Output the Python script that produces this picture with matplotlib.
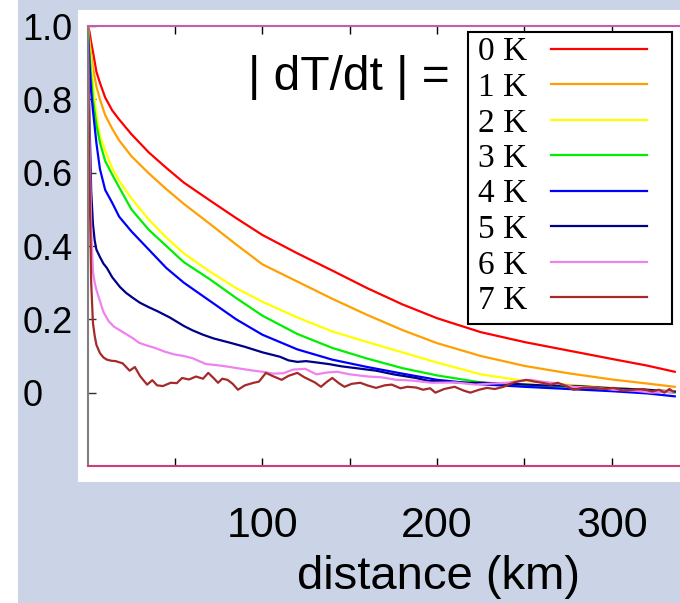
import matplotlib
matplotlib.use("Agg")
import matplotlib.pyplot as plt
from matplotlib.patches import Rectangle

# ---------------- data ----------------
dist_smooth = [0, 1, 2, 3, 5, 7, 10, 14, 18, 25, 35, 45, 55, 70, 85, 100, 120,
               140, 160, 180, 200, 225, 250, 275, 300, 320, 336]
corr_0K = [1.0, 0.985, 0.955, 0.93, 0.875, 0.845, 0.805, 0.77, 0.745, 0.705, 0.655,
           0.613, 0.573, 0.524, 0.476, 0.43, 0.38, 0.333, 0.285, 0.241, 0.203,
           0.165, 0.138, 0.115, 0.092, 0.074, 0.057]
corr_1K = [1.0, 0.96, 0.92, 0.885, 0.835, 0.8, 0.757, 0.72, 0.688, 0.645, 0.598,
           0.555, 0.515, 0.46, 0.404, 0.35, 0.303, 0.256, 0.212, 0.171, 0.135,
           0.1, 0.073, 0.053, 0.036, 0.025, 0.016]
corr_2K = [1.0, 0.95, 0.9, 0.84, 0.76, 0.7, 0.66, 0.612, 0.578, 0.53, 0.472, 0.423,
           0.38, 0.33, 0.285, 0.248, 0.205, 0.167, 0.138, 0.11, 0.082, 0.05,
           0.032, 0.022, 0.013, 0.008, 0.003]
corr_3K = [1.0, 0.93, 0.86, 0.8, 0.73, 0.682, 0.632, 0.595, 0.56, 0.5, 0.444, 0.4,
           0.356, 0.309, 0.258, 0.21, 0.16, 0.122, 0.093, 0.067, 0.047, 0.028,
           0.018, 0.012, 0.008, 0.005, 0.0]
corr_4K = [1.0, 0.9, 0.82, 0.77, 0.68, 0.61, 0.553, 0.518, 0.48, 0.44, 0.39, 0.34,
           0.3, 0.25, 0.2, 0.158, 0.118, 0.09, 0.07, 0.052, 0.035, 0.023,
           0.016, 0.01, 0.004, -0.002, -0.01]

dist_5K = [0, 1, 2, 3, 4, 5, 7, 9, 11, 14, 18.5, 22, 26, 30, 35, 40, 47, 55, 60, 66,
           72, 81.6, 90, 100, 110, 115, 120, 125, 130, 138, 145, 155, 165, 175, 188,
           195, 205, 215, 225, 240, 260, 280, 300, 320, 336]
corr_5K = [1.0, 0.75, 0.55, 0.46, 0.415, 0.39, 0.37, 0.352, 0.34, 0.315, 0.288,
           0.272, 0.258, 0.245, 0.233, 0.222, 0.205, 0.182, 0.17, 0.158, 0.148,
           0.136, 0.125, 0.11, 0.098, 0.088, 0.084, 0.086, 0.083, 0.078, 0.072,
           0.066, 0.06, 0.05, 0.04, 0.032, 0.03, 0.027, 0.027, 0.025, 0.02, 0.018,
           0.012, 0.008, 0.003]

dist_6K = [0, 1, 2, 3, 4, 5, 7, 9, 12, 15, 18.5, 22.6, 26, 29.4, 33, 38.5, 44, 49.8,
           55, 60, 67.7, 74, 81.5, 88, 95, 100, 106, 112, 117.6, 124.5, 131, 137,
           142.8, 150, 160.6, 168, 176.6, 186, 197, 210, 222, 232, 240, 247, 253.5,
           260, 268, 278, 290, 301, 312, 323, 330, 335]
corr_6K = [1.0, 0.7, 0.45, 0.33, 0.3, 0.28, 0.25, 0.22, 0.195, 0.18, 0.17, 0.158,
           0.148, 0.136, 0.13, 0.122, 0.112, 0.104, 0.1, 0.094, 0.078, 0.075,
           0.07, 0.065, 0.06, 0.057, 0.052, 0.053, 0.063, 0.065, 0.05, 0.055,
           0.057, 0.05, 0.044, 0.042, 0.035, 0.033, 0.027, 0.028, 0.022, 0.025,
           0.027, 0.032, 0.035, 0.03, 0.026, 0.016, 0.014, 0.008, 0.006, 0.0,
           0.004, 0.0]

dist_7K = [0, 1, 2, 3, 4, 5, 7, 9, 11, 13.6, 16, 20, 24, 27, 30, 34, 37, 39.7, 43,
           47.5, 51, 54, 58, 62, 66, 69, 72, 74.6, 77, 80, 83, 86, 90, 95, 98, 102,
           106, 111, 115, 120, 124, 127, 130, 133.5, 137, 140, 144, 147, 151, 156,
           160, 165, 170, 174, 179, 183, 188, 192, 196, 199, 204, 210, 215, 219,
           224, 228.5, 233, 238, 244, 251, 256, 260, 265, 269, 274, 278, 284, 290,
           296, 301, 306, 312, 318, 323, 327, 330, 333, 335]
corr_7K = [1.0, 0.6, 0.3, 0.19, 0.155, 0.13, 0.108, 0.096, 0.09, 0.087, 0.086, 0.08,
           0.06, 0.07, 0.045, 0.022, 0.034, 0.02, 0.018, 0.027, 0.026, 0.04, 0.036,
           0.044, 0.038, 0.054, 0.04, 0.027, 0.038, 0.035, 0.024, 0.008, 0.02, 0.027,
           0.03, 0.054, 0.045, 0.035, 0.046, 0.054, 0.042, 0.035, 0.028, 0.016,
           0.03, 0.04, 0.025, 0.016, 0.024, 0.027, 0.02, 0.013, 0.02, 0.022, 0.012,
           0.016, 0.014, 0.008, 0.012, 0.0, 0.01, 0.016, 0.006, 0.0, 0.008, 0.013,
           0.01, 0.016, 0.028, 0.035, 0.03, 0.027, 0.022, 0.027, 0.018, 0.008,
           0.014, 0.013, 0.01, 0.013, 0.006, 0.008, 0.01, 0.003, 0.008, 0.0, 0.01,
           0.003]

labels = ["0 K", "1 K", "2 K", "3 K", "4 K", "5 K", "6 K", "7 K"]
colors = ["#ff0000", "#ffa000", "#ffff00", "#00ee00", "#0000ff", "#00008b",
          "#ee82ee", "#a52a2a"]
xticks = [50, 100, 150, 200, 250, 300]
xticklabels = ["", "100", "", "200", "", "300"]
yticks = [0, 0.2, 0.4, 0.6, 0.8, 1.0]
yticklabels = ["0", "0.2", "0.4", "0.6", "0.8", "1.0"]

series = [(dist_smooth, corr_0K), (dist_smooth, corr_1K), (dist_smooth, corr_2K),
          (dist_smooth, corr_3K), (dist_smooth, corr_4K), (dist_5K, corr_5K),
          (dist_6K, corr_6K), (dist_7K, corr_7K)]

# ---------------- figure ----------------
W, H = 680, 603
BG = "#cbd4e6"
plt.rcParams["font.family"] = ["Liberation Sans", "DejaVu Sans"]
fig = plt.figure(figsize=(W / 100, H / 100), dpi=100, facecolor=BG)

def fx(px):
    return px / W

def fy(py):
    return 1 - py / H

fig.add_artist(Rectangle((0, 0), fx(18), 1, transform=fig.transFigure,
                         facecolor="white", edgecolor="none", zorder=-10))
fig.add_artist(Rectangle((fx(78), fy(482)), fx(680 - 78), (482 - 10) / H,
                         transform=fig.transFigure, facecolor="white",
                         edgecolor="none", zorder=-10))

ax = fig.add_axes([fx(87.7), fy(466), 1 - fx(87.7), (466 - 26) / H])
ax.set_facecolor("white")

lines = []
for (xs, ys), c, lab in zip(series, colors, labels):
    ln, = ax.plot(xs, ys, color=c, lw=1.6, label=lab, solid_joinstyle="round")
    lines.append(ln)

ax.set_xlim(0, 339)
ax.set_ylim(-0.2, 1.0)

ax.spines["right"].set_visible(False)
ax.spines["top"].set_color("#c85ab0")
ax.spines["bottom"].set_color("#c8407a")
ax.spines["left"].set_color("#808080")
for s in ("top", "bottom", "left"):
    ax.spines[s].set_linewidth(1.5)

ax.set_xticks(xticks)
ax.set_xticklabels(xticklabels)
ax.set_yticks(yticks)
ax.set_yticklabels(yticklabels)
ax.tick_params(axis="x", direction="in", top=True, length=6, width=1,
               labelsize=31, pad=28.5)
for t in ax.xaxis.get_major_ticks():
    t.tick1line.set_color("#c0508a")
    t.tick2line.set_color("#902040")
ax.tick_params(axis="y", direction="in", length=6, width=1, color="#303030",
               labelsize=26, pad=46.8)
for lab in ax.get_yticklabels():
    lab.set_horizontalalignment("left")

# legend frame + legend
fig.add_artist(Rectangle((fx(468), fy(324)), fx(672 - 468), (324 - 32) / H,
                         transform=fig.transFigure, facecolor="white",
                         edgecolor="black", lw=1.5, zorder=4))
leg = fig.legend(handles=lines, labels=labels, loc="upper left",
                 bbox_to_anchor=(fx(478), fy(37)), frameon=False,
                 markerfirst=False, handlelength=2.88, handletextpad=0.72,
                 labelspacing=0.15, borderpad=0, borderaxespad=0,
                 prop={"family": "Liberation Serif", "size": 24})
leg.set_zorder(5)

fig.text(fx(248), fy(77), "| dT/dt | =", fontsize=34.5, ha="left", va="center",
         color="black", zorder=6)
fig.text(fx(438), fy(577), "distance (km)", fontsize=34, ha="center",
         va="center", color="black")

fig.savefig("out.png", dpi=100, facecolor=BG)
